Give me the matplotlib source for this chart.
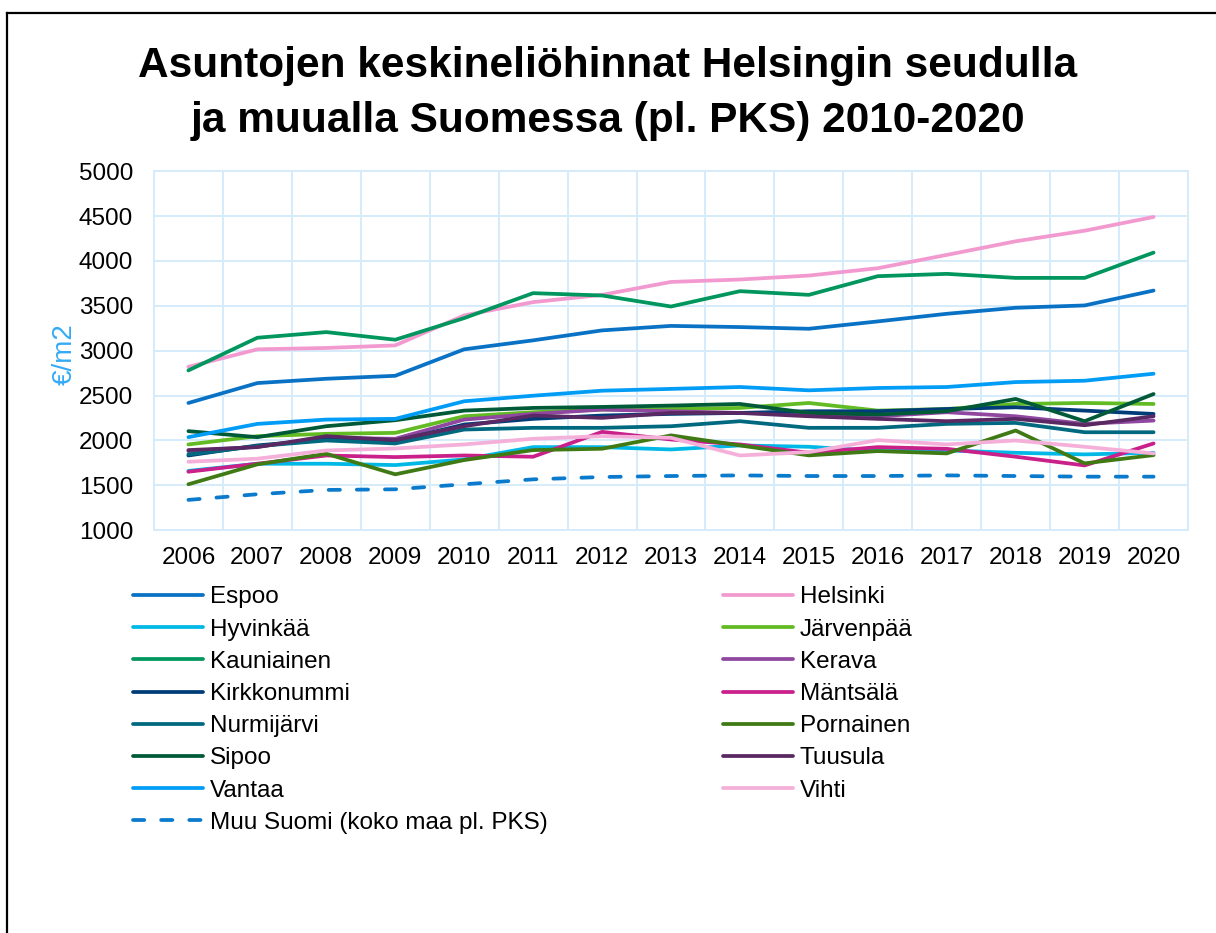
import matplotlib

matplotlib.use("Agg")
import matplotlib.pyplot as plt
from matplotlib.lines import Line2D
import numpy as np

plt.rcParams["font.family"] = ["Liberation Sans", "DejaVu Sans"]

years = [str(y) for y in range(2006, 2021)]

# average price per m2
espoo = [2417, 2639, 2687, 2720, 3015, 3115, 3226, 3276, 3263, 3244, 3326, 3411, 3478, 3504, 3670]
helsinki = [2820, 3015, 3030, 3059, 3393, 3541, 3622, 3766, 3793, 3837, 3919, 4067, 4219, 4337, 4490]
hyvinkaa = [1660, 1740, 1740, 1725, 1788, 1925, 1925, 1899, 1944, 1929, 1881, 1888, 1862, 1844, 1862]
jarvenpaa = [1955, 2047, 2073, 2084, 2269, 2314, 2343, 2350, 2362, 2417, 2332, 2350, 2406, 2417, 2406]
kauniainen = [2780, 3144, 3207, 3122, 3363, 3641, 3615, 3492, 3663, 3622, 3830, 3856, 3811, 3811, 4093]
kerava = [1880, 1929, 2029, 2018, 2232, 2295, 2343, 2325, 2306, 2295, 2269, 2314, 2269, 2184, 2221]
kirkkonummi = [1832, 1944, 2010, 1992, 2177, 2240, 2277, 2295, 2306, 2325, 2325, 2350, 2369, 2332, 2295]
mantsala = [1651, 1740, 1832, 1814, 1832, 1818, 2095, 2010, 1955, 1862, 1925, 1906, 1818, 1721, 1966]
nurmijarvi = [1844, 1936, 1999, 1966, 2121, 2140, 2140, 2158, 2214, 2140, 2140, 2184, 2195, 2091, 2091]
pornainen = [1511, 1733, 1851, 1622, 1781, 1892, 1907, 2056, 1944, 1833, 1881, 1855, 2110, 1744, 1836]
sipoo = [2103, 2036, 2158, 2225, 2332, 2362, 2373, 2388, 2406, 2306, 2288, 2325, 2462, 2214, 2517]
tuusula = [1892, 1925, 2047, 2003, 2158, 2277, 2251, 2306, 2306, 2269, 2240, 2214, 2240, 2169, 2269]
vantaa = [2036, 2184, 2232, 2240, 2436, 2498, 2554, 2574, 2595, 2558, 2584, 2595, 2650, 2665, 2743]
vihti = [1762, 1796, 1888, 1910, 1955, 2018, 2047, 2029, 1832, 1870, 2003, 1955, 1999, 1929, 1855]
muu_suomi = [1337, 1400, 1448, 1455, 1511, 1566, 1592, 1603, 1610, 1603, 1603, 1610, 1603, 1596, 1596]

SERIES = [
    ("Espoo", espoo, "#0a72c4"),
    ("Helsinki", helsinki, "#f29acf"),
    ("Hyvinkää", hyvinkaa, "#00b8e6"),
    ("Järvenpää", jarvenpaa, "#62bb22"),
    ("Kauniainen", kauniainen, "#00965e"),
    ("Kerava", kerava, "#8f479f"),
    ("Kirkkonummi", kirkkonummi, "#003d78"),
    ("Mäntsälä", mantsala, "#c9208a"),
    ("Nurmijärvi", nurmijarvi, "#00697f"),
    ("Pornainen", pornainen, "#3f7a14"),
    ("Sipoo", sipoo, "#005a38"),
    ("Tuusula", tuusula, "#5a2862"),
    ("Vantaa", vantaa, "#009cf5"),
    ("Vihti", vihti, "#f5b0da"),
]

fig = plt.figure(figsize=(12.16, 9.33), dpi=100)
ax = fig.add_axes([0.1266, 0.4318, 0.8504, 0.3847])

x = np.arange(len(years))
handles = []
for name, vals, col in SERIES:
    (h,) = ax.plot(x, vals, color=col, lw=2.7, solid_capstyle="round",
                   solid_joinstyle="round", label=name)
    handles.append(h)
(h,) = ax.plot(x, muu_suomi, color="#0a7acc", lw=2.7, ls=(0, (3.0, 4.5)),
               dash_capstyle="round", label="Muu Suomi (koko maa pl. PKS)")
handles.append(h)

grid_col = "#d6ecfb"
ax.set_xlim(-0.5, len(years) - 0.5)
ax.set_ylim(1000, 5000)
ax.set_yticks(range(1000, 5001, 500))
ax.set_xticks(x)
ax.set_xticklabels(years)
ax.set_xticks(np.arange(-0.5, len(years)), minor=True)
ax.grid(True, which="minor", axis="x", color=grid_col, lw=1.4)
ax.grid(True, which="major", axis="y", color=grid_col, lw=1.4)
ax.set_axisbelow(True)
for s in ax.spines.values():
    s.set_color(grid_col)
    s.set_linewidth(1.4)
ax.tick_params(which="both", length=0, labelsize=17.5, colors="black")
ax.tick_params(axis="x", pad=12)
ax.tick_params(axis="y", pad=15)
ax.set_ylabel("€/m2", color="#36aaf5", fontsize=20)
ax.yaxis.set_label_coords(-0.074, 0.49)

# legend: Excel fills rows first, so reorder for column-major matplotlib
order = [0, 2, 4, 6, 8, 10, 12, 14, 1, 3, 5, 7, 9, 11, 13]
fig.legend([handles[i] for i in order], [handles[i].get_label() for i in order],
           ncol=2, loc="upper left", bbox_to_anchor=(0.0914, 0.395),
           frameon=False, fontsize=17.5, handlelength=2.88, handletextpad=0.29,
           labelspacing=0.42, columnspacing=7.2)

fig.text(0.5, 0.929, "Asuntojen keskineliöhinnat Helsingin seudulla",
         ha="center", va="center", fontsize=30.5, fontweight="black")
fig.text(0.5, 0.870, "ja muualla Suomessa (pl. PKS) 2010-2020",
         ha="center", va="center", fontsize=30.5, fontweight="black")

# outer chart frame (left and top edges visible in the crop)
fig.add_artist(Line2D([0.0058, 0.0058], [0.0, 0.986], transform=fig.transFigure,
                      color="black", lw=1.6))
fig.add_artist(Line2D([0.0058, 1.0], [0.986, 0.986], transform=fig.transFigure,
                      color="black", lw=1.6))

fig.savefig("out.png", dpi=100)
